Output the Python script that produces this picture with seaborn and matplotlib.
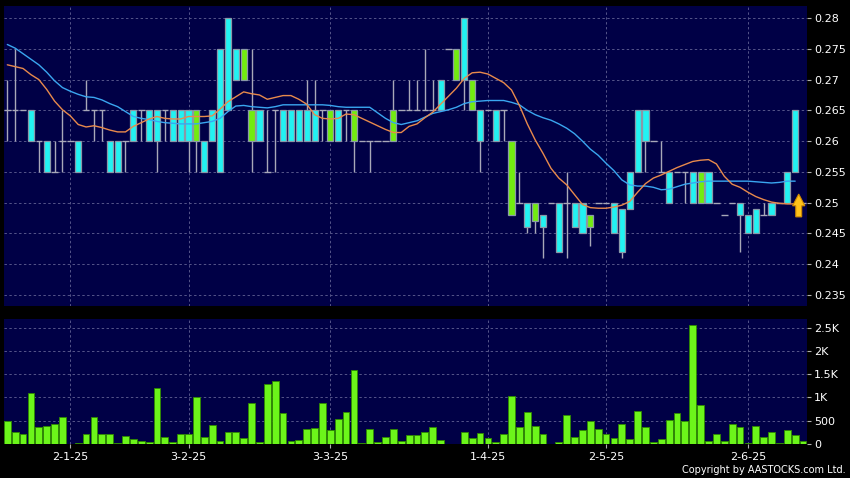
import numpy as np
import pandas as pd
import matplotlib
matplotlib.use("Agg")
import matplotlib.pyplot as plt
from matplotlib.patches import FancyArrow
import seaborn as sns

# Daily candles (price in HK$), one entry per trading day
opens = [0.265, 0.265, 0.265, 0.26, 0.26, 0.255, 0.255, 0.26, 0.26, 0.255,
         0.265, 0.265, 0.265, 0.255, 0.255, 0.26, 0.26, 0.265, 0.26, 0.26,
         0.265, 0.26, 0.26, 0.26, 0.265, 0.255, 0.26, 0.255, 0.265, 0.27,
         0.275, 0.265, 0.26, 0.255, 0.265, 0.26, 0.26, 0.26, 0.26, 0.26,
         0.265, 0.265, 0.26, 0.265, 0.265, 0.26, 0.26, 0.26, 0.26, 0.265,
         0.265, 0.265, 0.265, 0.265, 0.265, 0.265, 0.275, 0.275, 0.27, 0.27,
         0.26, 0.265, 0.26, 0.265, 0.26, 0.25, 0.246, 0.25, 0.246, 0.25,
         0.242, 0.25, 0.246, 0.245, 0.248, 0.25, 0.25, 0.245, 0.242, 0.249,
         0.255, 0.26, 0.26, 0.255, 0.25, 0.255, 0.255, 0.25, 0.255, 0.25,
         0.25, 0.248, 0.25, 0.248, 0.245, 0.245, 0.248, 0.248, 0.25, 0.25,
         0.255, 0.25]
highs = [0.27, 0.275, 0.265, 0.265, 0.26, 0.26, 0.26, 0.265, 0.26, 0.26,
         0.27, 0.265, 0.265, 0.26, 0.26, 0.26, 0.265, 0.265, 0.265, 0.265,
         0.265, 0.265, 0.265, 0.265, 0.265, 0.26, 0.265, 0.275, 0.28, 0.275,
         0.275, 0.275, 0.265, 0.265, 0.265, 0.265, 0.265, 0.265, 0.27, 0.27,
         0.265, 0.265, 0.265, 0.265, 0.265, 0.26, 0.26, 0.26, 0.26, 0.27,
         0.265, 0.27, 0.27, 0.275, 0.27, 0.27, 0.275, 0.275, 0.28, 0.27,
         0.265, 0.265, 0.265, 0.265, 0.26, 0.255, 0.25, 0.25, 0.248, 0.25,
         0.25, 0.255, 0.25, 0.25, 0.248, 0.25, 0.25, 0.25, 0.249, 0.255,
         0.265, 0.265, 0.26, 0.26, 0.255, 0.255, 0.255, 0.255, 0.255, 0.255,
         0.25, 0.248, 0.25, 0.25, 0.248, 0.249, 0.25, 0.25, 0.25, 0.255,
         0.265, 0.25]
lows = [0.26, 0.26, 0.265, 0.26, 0.255, 0.255, 0.255, 0.255, 0.26, 0.255,
        0.265, 0.26, 0.26, 0.255, 0.255, 0.255, 0.26, 0.26, 0.26, 0.255,
        0.26, 0.26, 0.26, 0.255, 0.255, 0.255, 0.26, 0.255, 0.265, 0.27,
        0.27, 0.255, 0.26, 0.255, 0.255, 0.26, 0.26, 0.26, 0.26, 0.26,
        0.26, 0.26, 0.26, 0.26, 0.255, 0.26, 0.255, 0.26, 0.26, 0.26,
        0.265, 0.265, 0.265, 0.265, 0.265, 0.265, 0.275, 0.27, 0.265, 0.265,
        0.255, 0.265, 0.26, 0.26, 0.248, 0.25, 0.245, 0.245, 0.241, 0.25,
        0.242, 0.241, 0.246, 0.245, 0.243, 0.25, 0.25, 0.245, 0.241, 0.249,
        0.255, 0.255, 0.26, 0.255, 0.25, 0.255, 0.25, 0.25, 0.25, 0.25,
        0.25, 0.248, 0.25, 0.242, 0.245, 0.245, 0.248, 0.248, 0.25, 0.25,
        0.255, 0.25]
closes = [0.265, 0.265, 0.265, 0.265, 0.26, 0.26, 0.255, 0.26, 0.26, 0.26,
          0.265, 0.265, 0.265, 0.26, 0.26, 0.26, 0.265, 0.265, 0.265, 0.265,
          0.265, 0.265, 0.265, 0.265, 0.26, 0.26, 0.265, 0.275, 0.28, 0.275,
          0.27, 0.26, 0.265, 0.255, 0.265, 0.265, 0.265, 0.265, 0.265, 0.265,
          0.265, 0.26, 0.265, 0.265, 0.26, 0.26, 0.26, 0.26, 0.26, 0.26,
          0.265, 0.265, 0.265, 0.265, 0.265, 0.27, 0.275, 0.27, 0.28, 0.265,
          0.265, 0.265, 0.265, 0.265, 0.248, 0.25, 0.25, 0.247, 0.248, 0.25,
          0.25, 0.25, 0.25, 0.25, 0.246, 0.25, 0.25, 0.25, 0.249, 0.255,
          0.265, 0.265, 0.26, 0.255, 0.255, 0.255, 0.255, 0.255, 0.25, 0.255,
          0.25, 0.248, 0.25, 0.25, 0.248, 0.249, 0.248, 0.25, 0.25, 0.255,
          0.265, 0.25]

# volume in thousands of shares
volumes = [486, 246, 217, 1101, 362, 391, 420, 580, 3, 20,
           203, 580, 210, 217, 20, 167, 94, 50, 36, 1196,
           138, 43, 217, 203, 1000, 138, 406, 58, 261, 246,
           130, 870, 43, 1283, 1362, 652, 50, 87, 312, 348,
           870, 290, 536, 681, 1594, 20, 326, 29, 138, 319,
           58, 196, 188, 255, 354, 79, 4, 4, 253, 130,
           224, 123, 29, 210, 1019, 354, 694, 390, 210, 4,
           36, 614, 137, 296, 491, 311, 202, 130, 426, 94,
           701, 368, 29, 101, 513, 665, 491, 2565, 831, 58,
           202, 51, 434, 368, 22, 376, 137, 246, 22, 296,
           181, 58]

# moving averages as drawn (blue = long, orange = short)
ma_long = [0.2757, 0.2751, 0.2742, 0.2733, 0.2724, 0.2712, 0.2698, 0.2687, 0.2681, 0.2676,
           0.2672, 0.2671, 0.2667, 0.2661, 0.2656, 0.2648, 0.2640, 0.2637, 0.2635, 0.2632,
           0.2630, 0.2629, 0.2628, 0.2628, 0.2628, 0.2630, 0.2632, 0.2637, 0.2648, 0.2657,
           0.2658, 0.2656, 0.2655, 0.2654, 0.2656, 0.2659, 0.2659, 0.2659, 0.2659, 0.2659,
           0.2659, 0.2658, 0.2656, 0.2655, 0.2655, 0.2655, 0.2655, 0.2646, 0.2637, 0.2630,
           0.2627, 0.2630, 0.2633, 0.2639, 0.2645, 0.2648, 0.2651, 0.2655, 0.2661, 0.2664,
           0.2665, 0.2666, 0.2666, 0.2666, 0.2663, 0.2659, 0.2650, 0.2643, 0.2638, 0.2634,
           0.2628, 0.2621, 0.2612, 0.2600, 0.2587, 0.2577, 0.2564, 0.2552, 0.2537, 0.2529,
           0.2527, 0.2527, 0.2525, 0.2521, 0.2522, 0.2526, 0.2530, 0.2532, 0.2534, 0.2535,
           0.2535, 0.2535, 0.2535, 0.2535, 0.2535, 0.2534, 0.2533, 0.2532, 0.2533, 0.2535,
           0.2535]
ma_short = [0.2724, 0.2721, 0.2718, 0.2708, 0.2700, 0.2684, 0.2665, 0.2651, 0.2641, 0.2627,
            0.2623, 0.2625, 0.2622, 0.2618, 0.2615, 0.2615, 0.2624, 0.2630, 0.2636, 0.2640,
            0.2637, 0.2636, 0.2636, 0.2640, 0.2640, 0.2640, 0.2641, 0.2652, 0.2664, 0.2672,
            0.2680, 0.2677, 0.2675, 0.2668, 0.2671, 0.2674, 0.2674, 0.2668, 0.2660, 0.2643,
            0.2637, 0.2636, 0.2637, 0.2644, 0.2643, 0.2637, 0.2631, 0.2625, 0.2619, 0.2614,
            0.2614, 0.2624, 0.2628, 0.2638, 0.2647, 0.2660, 0.2673, 0.2686, 0.2702, 0.2711,
            0.2712, 0.2709, 0.2702, 0.2695, 0.2683, 0.2658, 0.2628, 0.2602, 0.2580, 0.2556,
            0.2540, 0.2529, 0.2513, 0.2497, 0.2492, 0.2491, 0.2491, 0.2493, 0.2496, 0.2502,
            0.2517, 0.2531, 0.2540, 0.2545, 0.2551, 0.2557, 0.2562, 0.2567, 0.2569, 0.2570,
            0.2563, 0.2543, 0.2530, 0.2525, 0.2517, 0.2510, 0.2505, 0.2501, 0.2499, 0.2498,
            0.2498]

date_labels = ["2-1-25", "3-2-25", "3-3-25", "1-4-25", "2-5-25", "2-6-25"]
date_pos = [8, 23, 41, 61, 76, 94]
price_ticks = [0.235, 0.24, 0.245, 0.25, 0.255, 0.26, 0.265, 0.27, 0.275, 0.28]
price_labels = ["0.235", "0.24", "0.245", "0.25", "0.255", "0.26", "0.265", "0.27", "0.275", "0.28"]
vol_ticks = [0, 500, 1000, 1500, 2000, 2500]
vol_labels = ["0", "500", "1K", "1.5K", "2K", "2.5K"]

BG = "#000046"
GRID = "#55558a"
CYAN = "#22f2f2"
LIME = "#72ec10"
EDGE = "#8a98a8"
WICK = "#a8a8b8"

sns.set_theme(style="dark")
plt.rcParams["font.family"] = ["DejaVu Sans"]

df = pd.DataFrame({"open": opens, "high": highs, "low": lows, "close": closes, "volume": volumes})
df["idx"] = np.arange(len(df))
up = df[df.close > df.open + 1e-9]
down = df[df.close < df.open - 1e-9]
flat = df[np.isclose(df.close, df.open)]

fig = plt.figure(figsize=(8.5, 4.78), dpi=100, facecolor="black")
ax = fig.add_axes([4 / 850, 172 / 478, 803 / 850, 300 / 478])
axv = fig.add_axes([4 / 850, 34 / 478, 803 / 850, 125 / 478])

# candles
ax.vlines(df.idx, df.low, df.high, color=WICK, linewidth=1, zorder=2)
ax.bar(up.idx, up.close - up.open, bottom=up.open, width=0.78,
       color=CYAN, edgecolor=EDGE, linewidth=0.9, zorder=3)
ax.bar(down.idx, down.open - down.close, bottom=down.close, width=0.78,
       color=LIME, edgecolor=EDGE, linewidth=0.9, zorder=3)
ax.hlines(flat.close, flat.idx - 0.42, flat.idx + 0.42, color=WICK, linewidth=1, zorder=3)

ma = pd.DataFrame({"idx": np.arange(len(ma_long)), "long": ma_long, "short": ma_short})
sns.lineplot(data=ma, x="idx", y="long", ax=ax, color="#3aa6f0", linewidth=1, zorder=4)
sns.lineplot(data=ma, x="idx", y="short", ax=ax, color="#e88a4c", linewidth=1, zorder=4)

# last price arrow
ax.add_patch(FancyArrow(100.45, 0.2477, 0, 0.0037, width=0.75, head_width=1.55,
                        head_length=0.0019, length_includes_head=True,
                        facecolor="#ffc21a", edgecolor="#d08a00", linewidth=0.8, zorder=6))

# volume
sns.barplot(data=df, x="idx", y="volume", ax=axv, color="#6cf51a", saturation=1,
            width=0.86, edgecolor="#2f8a00", linewidth=0.6, zorder=3)

for a in (ax, axv):
    a.set_facecolor(BG)
    for s in a.spines.values():
        s.set_visible(False)
    a.set_xlim(-0.42, 101.5)
    a.set_xticks(date_pos)
    a.grid(True, color=GRID, linestyle=(0, (2.5, 2.5)), linewidth=0.7)
    a.set_axisbelow(True)
    a.yaxis.tick_right()
    a.tick_params(axis="y", colors="#b0b0b0", labelcolor="white", labelsize=8,
                  length=3, width=0.8, pad=2, right=True, left=False)
    a.set_xlabel("")
    a.set_ylabel("")

ax.set_ylim(0.23322, 0.28195)
ax.set_yticks(price_ticks, labels=price_labels)
ax.tick_params(axis="x", length=0, labelbottom=False)

axv.set_ylim(-6, 2687)
axv.set_yticks(vol_ticks, labels=vol_labels)
axv.set_xticks(date_pos, labels=date_labels)
axv.tick_params(axis="x", colors="#b0b0b0", labelcolor="white", labelsize=8,
                length=3, width=0.8, pad=3, bottom=True)

fig.text(0.995, 0.006, "Copyright by AASTOCKS.com Ltd.", ha="right", va="bottom",
         color="white", fontsize=7)

fig.savefig("out.png", dpi=100, facecolor="black")
